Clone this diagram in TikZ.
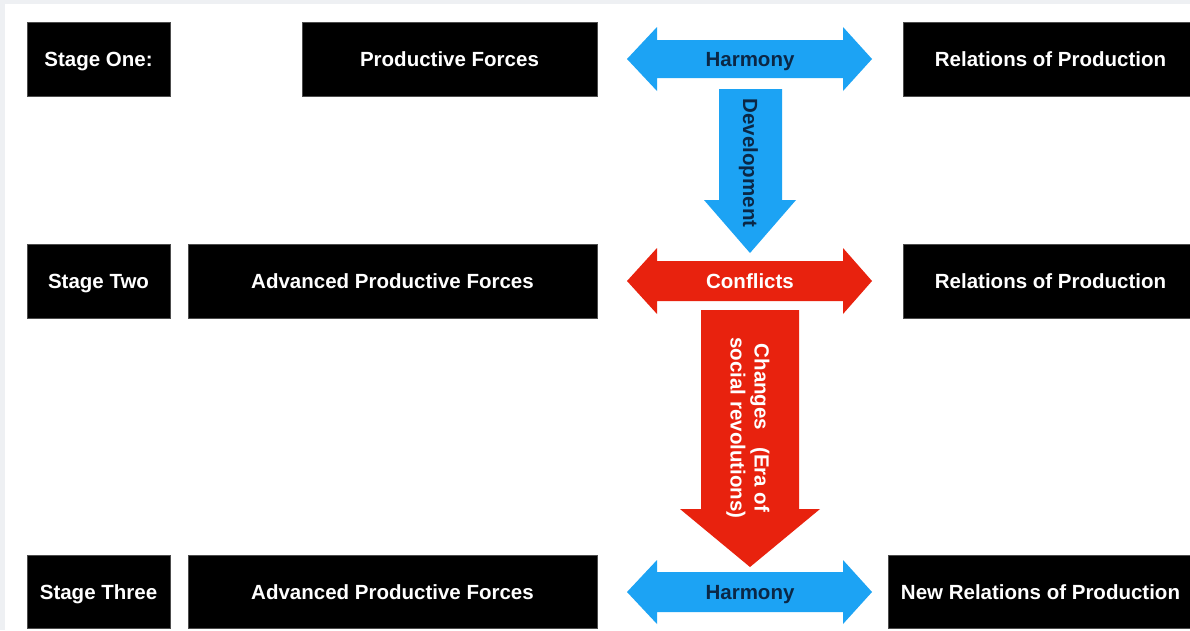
\documentclass[tikz,border=0pt]{standalone}
\usepackage{fontspec}
\setmainfont{Liberation Sans}
\definecolor{bgray}{HTML}{EEF0F3}
\definecolor{hblue}{HTML}{1CA3F4}
\definecolor{cred}{HTML}{E8220E}
\definecolor{navy}{HTML}{0B2745}
\begin{document}
\begin{tikzpicture}[x=1pt,y=-1pt,
  blk/.style={fill=black,draw=black!70,line width=0.6pt},
  wtxt/.style={text=white,font=\bfseries\fontsize{20.5}{24}\selectfont,inner sep=0pt,text height=15pt,text depth=1pt},
  ntxt/.style={text=navy,font=\bfseries\fontsize{20.5}{24}\selectfont,inner sep=0pt,text height=15pt,text depth=1pt},
  bluearrow/.style={fill=hblue},
  redarrow/.style={fill=cred}]
\clip (0,0) rectangle (1190,630);
\fill[bgray] (0,0) rectangle (1190,630);
\fill[white] (5,4) rectangle (1190,630);
% row 1
\draw[blk] (27,22) rectangle (170,96);
\node[wtxt] (s1) at (98.5,59) {Stage One:};
\draw[blk] (302,22) rectangle (597,96);
\node[wtxt] (pf1) at (449.5,59) {Productive Forces};
\draw[blk] (903,22) rectangle (1198,96);
\node[wtxt] (rp1) at (1050.5,59) {Relations of Production};
% row 2
\draw[blk] (27,244) rectangle (170,318);
\node[wtxt] (s2) at (98.5,281) {Stage Two};
\draw[blk] (188,244) rectangle (597,318);
\node[wtxt] (pf2) at (392.5,281) {Advanced Productive Forces};
\draw[blk] (903,244) rectangle (1198,318);
\node[wtxt] (rp2) at (1050.5,281) {Relations of Production};
% row 3
\draw[blk] (27,555) rectangle (170,628);
\node[wtxt] (s3) at (98.5,592) {Stage Three};
\draw[blk] (188,555) rectangle (597,628);
\node[wtxt] (pf3) at (392.5,592) {Advanced Productive Forces};
\draw[blk] (888,555) rectangle (1198,628);
\node[wtxt] (rp3) at (1040.5,592) {New Relations of Production};
% harmony 1
\fill[bluearrow] (627,59) -- (657,27) -- (657,40) -- (843,40) -- (843,27) -- (872,59)
  -- (843,91) -- (843,78) -- (657,78) -- (657,91) -- cycle;
\node[ntxt] (h1) at (750,59) {Harmony};
% development
\fill[bluearrow] (719,89) -- (782,89) -- (782,200) -- (796,200) -- (750,253)
  -- (704,200) -- (719,200) -- cycle;
\node[ntxt,rotate=-90] (dev) at (750,163) {Development};
% conflicts
\fill[redarrow] (627,281) -- (657,248) -- (657,261) -- (843,261) -- (843,248) -- (872,281)
  -- (843,314) -- (843,301) -- (657,301) -- (657,314) -- cycle;
\node[wtxt] (c1) at (750,281) {Conflicts};
% changes
\fill[redarrow] (701,310) -- (799,310) -- (799,509) -- (820,509) -- (750,567)
  -- (680,509) -- (701,509) -- cycle;
\node[text=white,inner sep=0pt,rotate=-90,align=center,font=\bfseries\fontsize{20.5}{24}\selectfont] (chg) at (748,428) {Changes \ \ (Era of\\social revolutions)};
% harmony 3
\fill[bluearrow] (627,592) -- (657,560) -- (657,572) -- (843,572) -- (843,560) -- (872,592)
  -- (843,624) -- (843,612) -- (657,612) -- (657,624) -- cycle;
\node[ntxt] (h3) at (750,592) {Harmony};
\end{tikzpicture}
\end{document}
